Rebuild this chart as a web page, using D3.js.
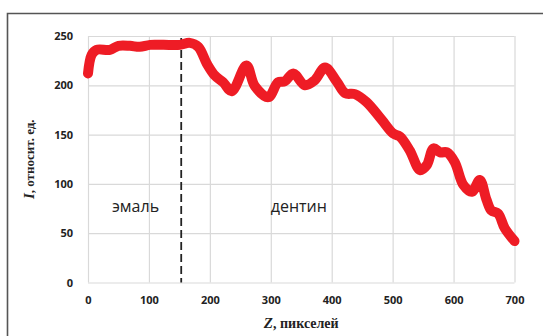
<!DOCTYPE html>
<html>
<head>
<meta charset="utf-8">
<script src="https://cdn.jsdelivr.net/npm/d3@7"></script>
<style>
  body { margin: 0; background: #fff; }
  svg { display: block; }
</style>
</head>
<body>
<div id="chart"></div>
<script>
// profile: Z in pixels, I in relative units
const zValues = [0, 6, 14, 36, 50, 69, 85, 102, 124, 151, 167, 181, 195, 208, 222, 236, 260, 274,
                 296, 312, 323, 337, 356, 372, 389, 408, 422, 438, 457, 482, 501, 512, 528, 545,
                 556, 567, 578, 589, 602, 616, 630, 643, 654, 662, 673, 684, 700];
const iValues = [212, 231, 236, 236, 240, 240, 239, 241, 241, 241, 243, 239, 222, 210, 203, 194, 220, 199,
                 188, 203, 204, 212, 200, 205, 218, 204, 192, 191, 183, 165, 151, 148, 134, 114,
                 119, 136, 132, 132, 122, 99, 92, 104, 84, 73, 70, 55, 42];
const xTickValues = [0, 100, 200, 300, 400, 500, 600, 700];
const yTickValues = [0, 50, 100, 150, 200, 250];
const boundaryZ = 153;   // enamel / dentin border
const zones = [{label: "эмаль", z: 78}, {label: "дентин", z: 346}];
const zoneLevel = 77;

const W = 543, H = 336;
const plot = {left: 88, right: 514.5, top: 36, bottom: 282.5};

const data = zValues.map((z, i) => ({z: z, v: iValues[i]}));

const svg = d3.select("#chart").append("svg")
    .attr("width", W)
    .attr("height", H)
    .attr("viewBox", `0 0 ${W} ${H}`);

// frame (top and left edges only are visible)
svg.append("path")
    .attr("d", `M7.5,${H} L7.5,13.5 L${W},13.5`)
    .attr("fill", "none")
    .attr("stroke", "#555")
    .attr("stroke-width", 1.6);

let x = d3.scaleLinear().domain([0, 700]).range([plot.left, plot.right]);
let y = d3.scaleLinear().domain([0, 250]).range([plot.bottom, plot.top]);

/* Grid */
svg.append("g")
    .attr("transform", `translate(0, ${plot.bottom})`)
    .call(d3.axisBottom(x).tickValues(xTickValues).tickSize(-(plot.bottom - plot.top)).tickFormat(""))
    .call(g => g.select(".domain").remove())
    .call(g => g.selectAll("line").attr("stroke", "#d9d9d9").attr("stroke-width", 1.2));

svg.append("g")
    .attr("transform", `translate(${plot.left}, 0)`)
    .call(d3.axisLeft(y).tickValues(yTickValues).tickSize(-(plot.right - plot.left)).tickFormat(""))
    .call(g => g.select(".domain").remove())
    .call(g => g.selectAll("line").attr("stroke", "#d9d9d9").attr("stroke-width", 1.2));

/* Tick labels */
svg.append("g")
    .attr("transform", `translate(0, ${plot.bottom})`)
    .call(d3.axisBottom(x).tickValues(xTickValues).tickSize(0).tickPadding(14))
    .call(g => g.select(".domain").remove())
    .call(g => g.selectAll("text")
        .attr("font-family", "'Open Sans', sans-serif")
        .attr("font-weight", 700)
        .attr("font-size", 11)
        .attr("fill", "#222"));

svg.append("g")
    .attr("transform", `translate(${plot.left}, 0)`)
    .call(d3.axisLeft(y).tickValues(yTickValues).tickSize(0).tickPadding(15))
    .call(g => g.select(".domain").remove())
    .call(g => g.selectAll("text")
        .attr("font-family", "'Open Sans', sans-serif")
        .attr("font-weight", 700)
        .attr("font-size", 11)
        .attr("fill", "#222"));

// boundary marker
svg.append("line")
    .attr("x1", x(boundaryZ)).attr("x2", x(boundaryZ))
    .attr("y1", y(248)).attr("y2", y(0))
    .attr("stroke", "#222")
    .attr("stroke-width", 1.8)
    .attr("stroke-dasharray", "8,4");

// zone labels
svg.append("g").selectAll("text")
    .data(zones)
    .join("text")
    .attr("x", d => x(d.z))
    .attr("y", y(zoneLevel))
    .attr("dy", "0.35em")
    .attr("text-anchor", "middle")
    .attr("font-family", "'Open Sans', sans-serif")
    .attr("font-size", 16)
    .attr("fill", "#222")
    .text(d => d.label);

/* Profile line */
let line = d3.line()
    .x(d => x(d.z))
    .y(d => y(d.v))
    .curve(d3.curveCatmullRom.alpha(0.5));

svg.append("path")
    .datum(data)
    .attr("d", line)
    .attr("fill", "none")
    .attr("stroke", "#ee1c25")
    .attr("stroke-width", 10)
    .attr("stroke-linecap", "round")
    .attr("stroke-linejoin", "round");

// axis titles
let xTitle = svg.append("text")
    .attr("x", (plot.left + plot.right) / 2)
    .attr("y", 328)
    .attr("text-anchor", "middle")
    .attr("font-family", "'Liberation Serif', serif")
    .attr("font-weight", 700)
    .attr("font-size", 14)
    .attr("fill", "#222");
xTitle.append("tspan").attr("font-style", "italic").attr("font-size", 15).text("Z");
xTitle.append("tspan").text(", пикселей");

let yTitle = svg.append("text")
    .attr("transform", `translate(34, ${(plot.top + plot.bottom) / 2}) rotate(-90)`)
    .attr("text-anchor", "middle")
    .attr("font-family", "'Liberation Serif', serif")
    .attr("font-weight", 700)
    .attr("font-size", 13)
    .attr("fill", "#222");
yTitle.append("tspan").attr("font-style", "italic").attr("font-size", 15).text("I");
yTitle.append("tspan").text(", относит. ед.");
</script>
</body>
</html>
